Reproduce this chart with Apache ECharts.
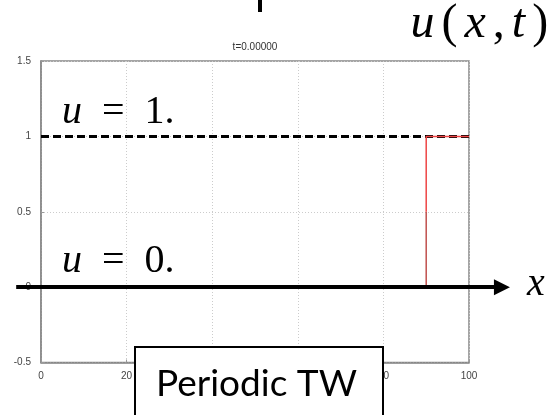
<!DOCTYPE html>
<html>
<head>
<meta charset="utf-8">
<script src="https://cdn.jsdelivr.net/npm/echarts@6/dist/echarts.min.js"></script>
<style>
html, body { margin: 0; padding: 0; background: #fff; }
#main { width: 551px; height: 415px; }
</style>
</head>
<body>
<div id="main"></div>
<script>
// data
var xTicks = [0, 20, 40, 60, 80, 100];
var yTicks = [-0.5, 0, 0.5, 1, 1.5];
var waveLow = [[0, 0], [90, 0], [90, 0.5]];
var waveHigh = [[90, 0.5], [90, 1], [100, 1]];
var levelOne = [[0, 1], [100, 1]];
var xArrow = [[-5.8, 0], [107.7, 0]];

var myChart = echarts.init(document.getElementById('main'));

var math = 'Liberation Serif';
function mathRich(size, pad) {
  return {
    i: { font: 'italic ' + size + 'px "' + math + '"', fill: '#000', padding: [0, pad] },
    r: { font: size + 'px "' + math + '"', fill: '#000', padding: [0, pad] }
  };
}

var option = {
  animation: false,
  backgroundColor: '#fff',
  grid: {
    left: 41, right: 82, top: 61, bottom: 52.5,
    show: true, borderColor: '#888', borderWidth: 1.5
  },
  xAxis: {
    type: 'value', min: xTicks[0], max: xTicks[xTicks.length - 1], interval: 20,
    axisLine: { show: true, onZero: false, lineStyle: { color: '#888', width: 1.5 } },
    axisTick: { show: true, inside: true, length: 3, lineStyle: { color: '#999' } },
    axisLabel: { color: '#444', fontSize: 10, fontFamily: 'Liberation Sans', margin: 9 },
    splitLine: { show: true, lineStyle: { color: '#ccc', type: [1, 2], width: 1 } }
  },
  yAxis: {
    type: 'value', min: yTicks[0], max: yTicks[yTicks.length - 1], interval: 0.5,
    axisLine: { show: true, onZero: false, lineStyle: { color: '#888', width: 1.5 } },
    axisTick: { show: true, inside: true, length: 3, lineStyle: { color: '#999' } },
    axisLabel: { color: '#444', fontSize: 10, fontFamily: 'Liberation Sans', margin: 10 },
    splitLine: { show: true, lineStyle: { color: '#ccc', type: [1, 2], width: 1 } }
  },
  series: [
    {
      type: 'line', data: levelOne, showSymbol: false, z: 2,
      lineStyle: { color: '#000', width: 3, type: [8, 4] }
    },
    {
      type: 'line', data: waveLow, showSymbol: false, z: 3,
      lineStyle: { color: '#c0504d', width: 1.5 }
    },
    {
      type: 'line', data: waveHigh, showSymbol: false, z: 3,
      lineStyle: { color: '#ee4444', width: 1.5 }
    },
    {
      type: 'lines', coordinateSystem: 'cartesian2d', clip: false, z: 5,
      symbol: ['none', 'triangle'], symbolSize: 16,
      lineStyle: { color: '#000', width: 4, opacity: 1, curveness: 0 },
      data: [{ coords: xArrow }]
    }
  ],
  graphic: [
    { type: 'rect', z: 50, shape: { x: 258, y: 0, width: 4, height: 12 }, style: { fill: '#000' } },
    { type: 'text', z: 50, style: { text: 't=0.00000', x: 255, y: 47, font: '10px "Liberation Sans"', fill: '#333', textAlign: 'center', textVerticalAlign: 'middle' } },
    { type: 'text', z: 50, style: {
      text: '{i|u}{r|(}{i|x}{r|,}{i|t}{r|)}', x: 407, y: 24, textVerticalAlign: 'middle',
      rich: mathRich(48, 3.5)
    } },
    { type: 'text', z: 50, style: {
      text: '{i|u}{r|=}{r|1.}', x: 52, y: 112, textVerticalAlign: 'middle',
      rich: mathRich(40, 10)
    } },
    { type: 'text', z: 50, style: {
      text: '{i|u}{r|=}{r|0.}', x: 52, y: 261, textVerticalAlign: 'middle',
      rich: mathRich(40, 10)
    } },
    { type: 'text', z: 50, style: { text: 'x', x: 527, y: 284, font: 'italic 40px "' + math + '"', fill: '#000', textVerticalAlign: 'middle' } },
    { type: 'rect', z: 60, shape: { x: 135, y: 347, width: 248, height: 80 }, style: { fill: '#fff', stroke: '#000', lineWidth: 2 } },
    { type: 'text', z: 61, style: { text: 'Periodic TW', x: 156, y: 384, font: '37px Lato', fill: '#000', textVerticalAlign: 'middle' } }
  ]
};

myChart.setOption(option);
</script>
</body>
</html>
